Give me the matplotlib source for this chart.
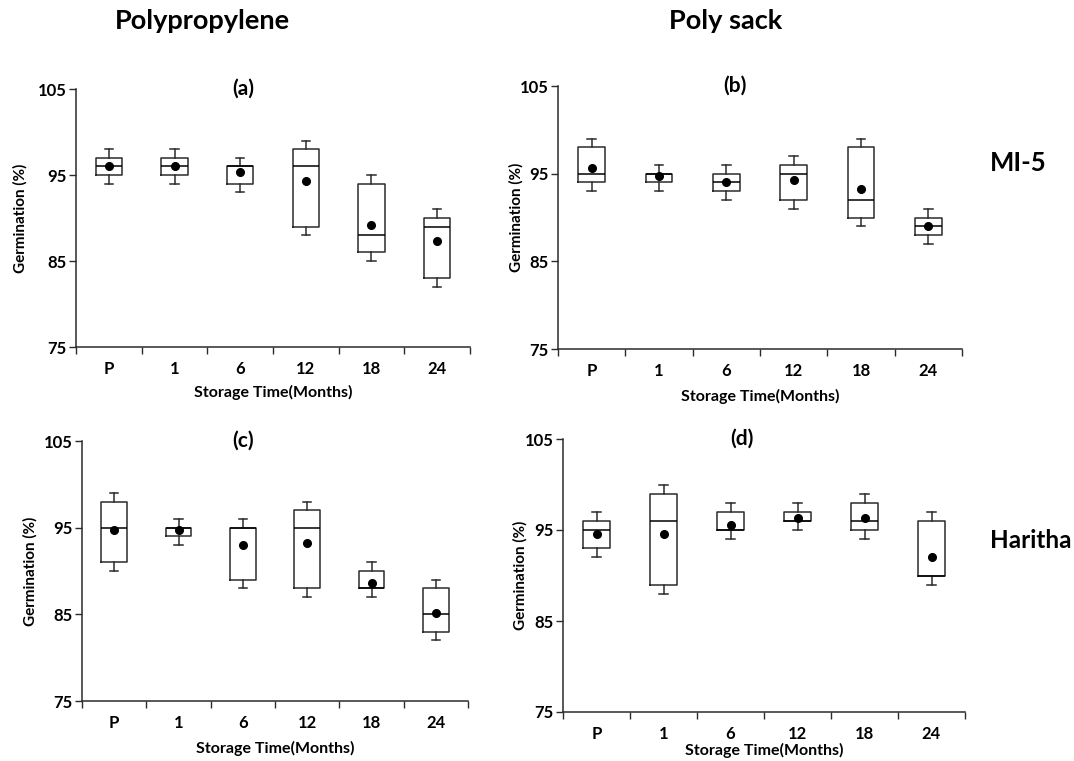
import matplotlib
matplotlib.use("Agg")
import matplotlib.pyplot as plt

plt.rcParams['font.family'] = ['Lato', 'DejaVu Sans']

categories = ["P", "1", "6", "12", "18", "24"]

# each panel: whisker low, box low (q1), median, box high (q3), whisker high, mean
a_wlo = [94, 94, 93, 88, 85, 82]
a_q1 = [95, 95, 94, 89, 86, 83]
a_med = [96, 96, 96, 96, 88, 89]
a_q3 = [97, 97, 96, 98, 94, 90]
a_whi = [98, 98, 97, 99, 95, 91]
a_mean = [96.0, 96.0, 95.3, 94.3, 89.2, 87.3]

b_wlo = [93, 93, 92, 91, 89, 87]
b_q1 = [94, 94, 93, 92, 90, 88]
b_med = [95, 95, 94, 95, 92, 89]
b_q3 = [98, 95, 95, 96, 98, 90]
b_whi = [99, 96, 96, 97, 99, 91]
b_mean = [95.7, 94.7, 94.0, 94.3, 93.3, 89.0]

c_wlo = [90, 93, 88, 87, 87, 82]
c_q1 = [91, 94, 89, 88, 88, 83]
c_med = [95, 95, 95, 95, 88, 85]
c_q3 = [98, 95, 95, 97, 90, 88]
c_whi = [99, 96, 96, 98, 91, 89]
c_mean = [94.7, 94.7, 93.0, 93.2, 88.6, 85.2]

d_wlo = [92, 88, 94, 95, 94, 89]
d_q1 = [93, 89, 95, 96, 95, 90]
d_med = [95, 96, 95, 96, 96, 90]
d_q3 = [96, 99, 97, 97, 98, 96]
d_whi = [97, 100, 98, 98, 99, 97]
d_mean = [94.6, 94.6, 95.6, 96.3, 96.3, 92.0]

panel_titles = ["(a)", "(b)", "(c)", "(d)"]
y_ticks = [75, 85, 95, 105]
x_label = "Storage Time(Months)"
y_label = "Germination (%)"
col_titles = ["Polypropylene", "Poly sack"]
row_titles = ["MI-5", "Haritha"]

W, H = 1074, 761
fig = plt.figure(figsize=(W / 100, H / 100), dpi=100)


def rect(l, t, r, b):
    return [l / W, 1 - b / H, (r - l) / W, (b - t) / H]


panels = [
    (rect(76, 89, 470, 347), (a_wlo, a_q1, a_med, a_q3, a_whi, a_mean), 7, 6, 0.424),
    (rect(558, 86, 962, 349), (b_wlo, b_q1, b_med, b_q3, b_whi, b_mean), -3, 7, 0.438),
    (rect(82, 441, 468, 701), (c_wlo, c_q1, c_med, c_q3, c_whi, c_mean), 4, 7, 0.417),
    (rect(563, 439, 965, 712), (d_wlo, d_q1, d_med, d_q3, d_whi, d_mean), -2, 1, 0.444),
]

edge = "#2b2b2b"
for (pos, data, ylp, xlp, tx), title in zip(panels, panel_titles):
    ax = fig.add_axes(pos)
    wlo, q1, med, q3, whi, mean = data
    stats = []
    for i, lab in enumerate(categories):
        stats.append(dict(label=lab, whislo=wlo[i], q1=q1[i], med=med[i],
                          q3=q3[i], whishi=whi[i], mean=mean[i], fliers=[]))
    ax.bxp(stats, positions=range(len(categories)), widths=0.4,
           showmeans=True, showfliers=False,
           boxprops=dict(color=edge, linewidth=1.1),
           whiskerprops=dict(color=edge, linewidth=1.1),
           capprops=dict(color=edge, linewidth=1.1),
           medianprops=dict(color="black", linewidth=1.1),
           meanprops=dict(marker="o", markerfacecolor="black",
                          markeredgecolor="black", markersize=5.5),
           capwidths=0.13)
    ax.set_xlim(-0.5, len(categories) - 0.5)
    ax.set_ylim(75, 105)
    ax.set_yticks(y_ticks)
    ax.set_xticks(range(len(categories)))
    ax.set_xticklabels(categories, fontweight="bold", fontsize=12)
    ax.tick_params(axis="x", which="major", length=0, pad=10)
    ax.set_xticks([i - 0.5 for i in range(len(categories) + 1)], minor=True)
    ax.tick_params(axis="x", which="minor", length=5, width=1, color=edge, direction="out")
    ax.tick_params(axis="y", length=5, width=1, color=edge, direction="out", pad=2)
    for lbl in ax.get_yticklabels():
        lbl.set_fontweight("bold")
        lbl.set_fontsize(12)
    for s in ["top", "right"]:
        ax.spines[s].set_visible(False)
    for s in ["left", "bottom"]:
        ax.spines[s].set_color(edge)
        ax.spines[s].set_linewidth(1.1)
    ax.set_ylabel(y_label, fontweight="bold", fontsize=11, labelpad=ylp)
    ax.set_xlabel(x_label, fontweight="bold", fontsize=11.5, labelpad=xlp)
    ax.text(tx, 1.0, title, transform=ax.transAxes, fontweight="bold",
            fontsize=15, ha="center", va="center")

fig.text(202 / W, 1 - 21 / H, col_titles[0], fontsize=19.5, fontweight="bold",
         ha="center", va="center")
fig.text(726 / W, 1 - 21 / H, col_titles[1], fontsize=19.5, fontweight="bold",
         ha="center", va="center")
fig.text(1018 / W, 1 - 163 / H, row_titles[0], fontsize=18.5, fontweight="bold",
         ha="center", va="center")
fig.text(1031 / W, 1 - 541 / H, row_titles[1], fontsize=17.5, fontweight="bold",
         ha="center", va="center")

fig.savefig("out.png", dpi=100, facecolor="white")
